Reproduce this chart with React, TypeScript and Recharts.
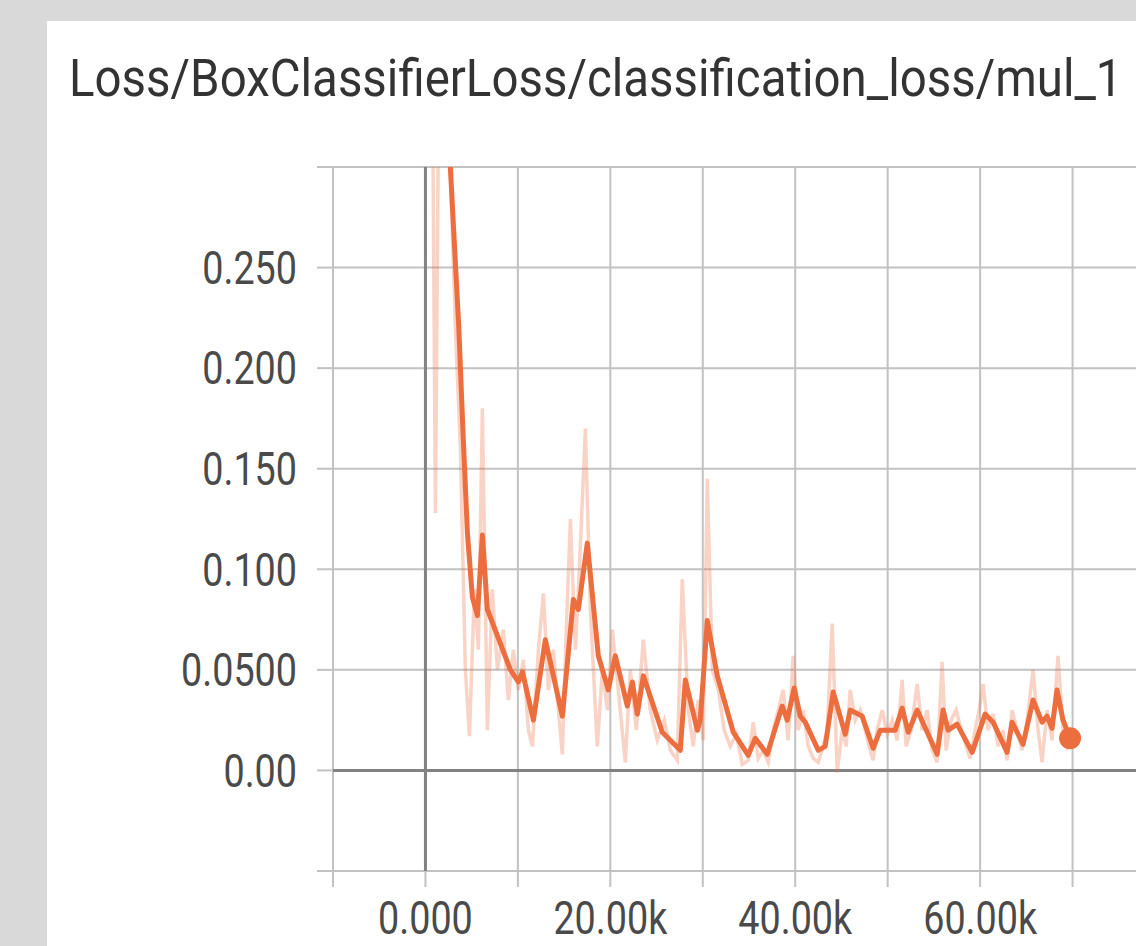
import { LineChart, Line, XAxis, YAxis, CartesianGrid, ReferenceLine, ReferenceDot } from "recharts";

const title = "Loss/BoxClassifierLoss/classification_loss/mul_1";

// steps are in thousands
const smoothSteps = [
  0.3, 1.6, 3.6, 4.11, 4.54, 5.08, 5.62, 6.16, 6.7, 7.78, 9.19, 10.05, 10.49, 11.68, 12.97, 14.81, 16.0, 16.54,
  17.51, 18.7, 19.78, 20.54, 21.84, 22.38, 22.92, 23.57, 25.62, 27.57, 28.11, 29.41, 29.73, 30.49, 31.57, 33.3,
  34.92, 35.68, 36.97, 38.59, 39.14, 39.89, 40.54, 41.08, 42.49, 43.24, 44.11, 45.41, 45.95, 47.24, 48.43, 49.19,
  50.81, 51.57, 52.22, 53.19, 55.35, 56.0, 56.54, 57.51, 59.14, 60.54, 61.41, 62.92, 63.46, 64.65, 65.73, 66.7,
  67.24, 67.78, 68.32, 68.97, 69.73,
];
const smoothValues = [
  0.6, 0.395, 0.221, 0.163, 0.118, 0.086, 0.077, 0.117, 0.08, 0.067, 0.05, 0.044, 0.049, 0.025, 0.065, 0.027, 0.085, 0.08,
  0.113, 0.057, 0.04, 0.057, 0.032, 0.044, 0.028, 0.047, 0.019, 0.01, 0.045, 0.02, 0.025, 0.0745, 0.047, 0.019,
  0.0075, 0.016, 0.008, 0.032, 0.025, 0.041, 0.027, 0.024, 0.01, 0.012, 0.039, 0.018, 0.03, 0.027, 0.011, 0.02,
  0.02, 0.031, 0.019, 0.03, 0.008, 0.03, 0.02, 0.023, 0.009, 0.028, 0.024, 0.009, 0.024, 0.013, 0.035, 0.024,
  0.027, 0.021, 0.04, 0.025, 0.016,
];

const rawSteps = [
  0.2, 0.65, 1.08, 1.62, 2.16, 2.7, 3.24, 3.78, 4.32, 4.76, 5.3, 5.73, 6.16, 6.7, 7.24, 7.78, 8.43, 8.97, 9.51, 10.05,
  10.59, 11.14, 11.57, 12.22, 12.76, 13.3, 13.84, 14.38, 14.81, 15.24, 15.68, 16.22, 16.65, 17.3, 17.84, 18.59, 19.14,
  19.68, 20.22, 20.86, 21.62, 22.16, 22.81, 23.57, 24.32, 25.08, 25.84, 26.49, 27.24, 27.78, 28.43, 28.97, 29.51, 30.05,
  30.49, 31.03, 31.68, 32.32, 32.97, 33.62, 34.27, 34.92, 35.46, 36.0, 36.54, 37.08, 37.62, 38.16, 38.7, 39.24, 39.78,
  40.32, 40.86, 41.41, 41.95, 42.49, 43.03, 43.46, 44.0, 44.54, 45.08, 45.51, 45.95, 46.49, 47.03, 47.57, 48.0, 48.43,
  48.86, 49.41, 49.95, 50.49, 51.03, 51.57, 52.0, 52.54, 53.19, 53.73, 54.27, 54.81, 55.35, 55.89, 56.32, 56.86, 57.41,
  57.95, 58.49, 58.92, 59.46, 59.89, 60.32, 60.86, 61.41, 61.95, 62.49, 62.92, 63.46, 64.0, 64.54, 65.08, 65.73, 66.27,
  66.7, 67.24, 67.78, 68.43, 68.97, 69.41, 69.73,
];
const rawValues = [
  0.55, 0.42, 0.128, 0.45, 0.38, 0.3, 0.22, 0.16, 0.05, 0.017, 0.09, 0.06, 0.18, 0.02, 0.09, 0.05, 0.07, 0.035, 0.06, 0.04,
  0.055, 0.02, 0.012, 0.06, 0.088, 0.04, 0.06, 0.03, 0.008, 0.07, 0.125, 0.06, 0.1, 0.17, 0.08, 0.012, 0.05,
  0.03, 0.07, 0.04, 0.004, 0.05, 0.02, 0.065, 0.03, 0.015, 0.025, 0.01, 0.005, 0.095, 0.03, 0.012, 0.035, 0.015,
  0.145, 0.05, 0.04, 0.02, 0.012, 0.018, 0.003, 0.005, 0.024, 0.006, 0.01, 0.004, 0.02, 0.03, 0.04, 0.015, 0.057,
  0.02, 0.03, 0.012, 0.006, 0.004, 0.012, 0.02, 0.073, -0.001, 0.02, 0.012, 0.04, 0.025, 0.03, 0.02, 0.012, 0.005,
  0.02, 0.03, 0.018, 0.025, 0.015, 0.045, 0.012, 0.02, 0.043, 0.02, 0.03, 0.01, 0.004, 0.054, 0.01, 0.025, 0.03,
  0.02, 0.012, 0.006, 0.02, 0.03, 0.043, 0.02, 0.028, 0.012, 0.02, 0.005, 0.03, 0.02, 0.01, 0.025, 0.05, 0.02,
  0.004, 0.03, 0.015, 0.057, 0.02, 0.012, 0.016,
];

const xTicks = [-10, 0, 10, 20, 30, 40, 50, 60, 70, 80];
const xLabelValues = [0, 20, 40, 60];
const xLabelTexts = ["0.000", "20.00k", "40.00k", "60.00k"];

const yTicks = [-0.05, 0, 0.05, 0.1, 0.15, 0.2, 0.25, 0.3];
const yLabelValues = [0, 0.05, 0.1, 0.15, 0.2, 0.25];
const yLabelTexts = ["0.00", "0.0500", "0.100", "0.150", "0.200", "0.250"];

const smoothData = smoothSteps.map((step, i) => ({ step, value: smoothValues[i] }));
const rawData = rawSteps.map((step, i) => ({ step, value: rawValues[i] }));

const ORANGE = "#ec6e3e";
const GRID = "#c2c2c2";
const ZERO = "#828282";
const FONT = "Roboto, 'Liberation Sans', sans-serif";

function labelFor(value: number, values: number[], texts: string[]) {
  const i = values.findIndex((v) => Math.abs(v - value) < 1e-9);
  return i < 0 ? null : texts[i];
}

function XTick(props: any) {
  const { x, y, payload } = props;
  const text = labelFor(payload.value, xLabelValues, xLabelTexts);
  if (!text) return <g />;
  return (
    <g transform={`translate(${x},${y})`}>
      <text transform="scale(0.82,1)" textAnchor="middle" dy="0.71em" fontSize={46} fill="#4a4a4a" fontFamily={FONT}>
        {text}
      </text>
    </g>
  );
}

function YTick(props: any) {
  const { x, y, payload } = props;
  const text = labelFor(payload.value, yLabelValues, yLabelTexts);
  if (!text) return <g />;
  return (
    <g transform={`translate(${x},${y})`}>
      <text transform="scale(0.82,1)" textAnchor="end" dy="0.355em" fontSize={46} fill="#4a4a4a" fontFamily={FONT}>
        {text}
      </text>
    </g>
  );
}

export default function App() {
  const last = smoothData[smoothData.length - 1];
  return (
    <div style={{ position: "fixed", left: 0, top: 0, width: 1136, height: 946, overflow: "hidden", background: "#d9d9d9" }}>
      <div style={{ position: "absolute", left: 47, top: 21, width: 1200, height: 1000, background: "#ffffff" }} />
      <svg style={{ position: "absolute", left: 0, top: 0 }} width={1136} height={140}>
        <g transform="translate(69,96) scale(0.93,1)">
          <text x={0} y={0} fontSize={51} fill="#333333" fontFamily={FONT}>
            {title}
          </text>
        </g>
      </svg>
      <div style={{ position: "absolute", left: 0, top: 0 }}>
        <LineChart width={1175} height={946} margin={{ top: 167, right: 10, bottom: 0, left: 0 }}>
          <CartesianGrid stroke={GRID} strokeWidth={2} />
          <XAxis
            type="number"
            dataKey="step"
            domain={[-10, 80]}
            ticks={xTicks}
            interval={0}
            allowDataOverflow
            height={75}
            tickSize={16}
            tickMargin={14}
            axisLine={false}
            tickLine={{ stroke: GRID, strokeWidth: 2 }}
            tick={(p: any) => <XTick {...p} />}
          />
          <YAxis
            type="number"
            dataKey="value"
            domain={[-0.05, 0.3]}
            ticks={yTicks}
            interval={0}
            allowDataOverflow
            width={333}
            tickSize={16}
            tickMargin={20}
            axisLine={false}
            tickLine={{ stroke: GRID, strokeWidth: 2 }}
            tick={(p: any) => <YTick {...p} />}
          />
          <ReferenceLine x={0} stroke={ZERO} strokeWidth={3} />
          <ReferenceLine y={0} stroke={ZERO} strokeWidth={3} />
          <Line
            data={rawData}
            dataKey="value"
            type="linear"
            stroke={ORANGE}
            strokeOpacity={0.3}
            strokeWidth={3.5}
            dot={false}
            isAnimationActive={false}
          />
          <Line
            data={smoothData}
            dataKey="value"
            type="linear"
            stroke={ORANGE}
            strokeWidth={5}
            strokeLinejoin="round"
            dot={false}
            isAnimationActive={false}
          />
          <ReferenceDot x={last.step} y={last.value} r={11} fill={ORANGE} stroke="none" />
        </LineChart>
      </div>
    </div>
  );
}
